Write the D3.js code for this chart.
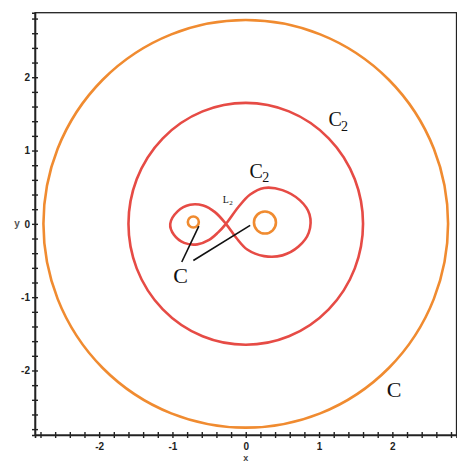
<!DOCTYPE html>
<html>
<head>
<meta charset="utf-8">
<script src="https://cdn.jsdelivr.net/npm/d3@7"></script>
<style>
  html, body { margin: 0; padding: 0; background: #fff; }
  svg { display: block; }
</style>
</head>
<body>
<svg id="chart" width="457" height="463"></svg>
<script>
// ---- data ----
const xDomain = [-2.875, 2.875];
const yDomain = [-2.88, 2.88];
const majorTicks = [-2, -1, 0, 1, 2];
const minorStep = 0.2;

// level curves drawn as ovals: [cx, cy, rx, ry]
const ovalNames  = ["C outer", "C2 outer", "C left", "C right"];
const ovalCx     = [0.0, 0.0, -0.715, 0.262];
const ovalCy     = [0.0, 0.0, 0.025, 0.018];
const ovalRx     = [2.76, 1.60, 0.075, 0.150];
const ovalRy     = [2.78, 1.65, 0.075, 0.150];
const ovalLevel  = ["C", "C2", "C", "C"];

// figure-eight C2 curve through the crossing point
const eightX = [-0.27, -0.10, 0.06, 0.25, 0.50, 0.74, 0.87, 0.86, 0.72, 0.50, 0.25, 0.02, -0.13,
                -0.27, -0.42, -0.58, -0.76, -0.93, -1.03, -0.98, -0.84, -0.66, -0.50, -0.38];
const eightY = [0.0, 0.23, 0.40, 0.49, 0.46, 0.32, 0.13, -0.12, -0.31, -0.43, -0.44, -0.35, -0.19,
                0.0, 0.16, 0.25, 0.26, 0.17, 0.0, -0.15, -0.26, -0.28, -0.22, -0.12];

// annotation labels
const labelText = ["C", "2", "C", "2", "L", "2", "C", "C"];
const labelX    = [1.13, 1.30, 0.05, 0.225, -0.315, -0.225, -0.99, 1.925];
const labelY    = [1.33, 1.27, 0.63, 0.57, 0.28, 0.255, -0.81, -2.36];
const labelSize = [20, 14, 20, 14, 10, 7, 22, 22];
// pointer lines from the lower "C"
const pointerX1 = [-0.873, -0.715];
const pointerY1 = [-0.52, -0.50];
const pointerX2 = [-0.64, 0.06];
const pointerY2 = [-0.03, -0.02];

const colors = { C: "#f08b30", C2: "#e64b45" };

// ---- chart ----
const svg = d3.select("#chart");
const x = d3.scaleLinear().domain(xDomain).range([35, 456.5]);
const y = d3.scaleLinear().domain(yDomain).range([435, 12.7]);

const minor = d3.range(-2.8, 2.81, minorStep).map(v => Math.round(v * 10) / 10);

// frame
svg.append("rect")
  .attr("x", x(xDomain[0])).attr("y", y(yDomain[1]))
  .attr("width", x(xDomain[1]) - x(xDomain[0]))
  .attr("height", y(yDomain[0]) - y(yDomain[1]))
  .attr("fill", "none").attr("stroke", "#222").attr("stroke-width", 1.3);

const fmt = v => (majorTicks.includes(v) ? (v < 0 ? "-" + Math.abs(v) : String(v)) : "");

const xAxis = svg.append("g")
  .attr("transform", `translate(0,${y(yDomain[0])})`)
  .call(d3.axisBottom(x).tickValues(minor).tickSize(3).tickFormat(fmt));
const yAxis = svg.append("g")
  .attr("transform", `translate(${x(xDomain[0])},0)`)
  .call(d3.axisLeft(y).tickValues(minor).tickSize(3).tickFormat(fmt));

[xAxis, yAxis].forEach(g => {
  g.select(".domain").attr("stroke", "#222").attr("stroke-width", 1.6);
  g.selectAll(".tick line").attr("stroke", "#222").attr("stroke-width", 1.4);
  g.selectAll("text")
    .attr("font-family", "Liberation Sans, Arial, sans-serif")
    .attr("font-weight", "bold").attr("font-size", 10).attr("fill", "#222");
});
xAxis.selectAll(".tick line").attr("y1", -3).attr("y2", 3);
xAxis.selectAll(".tick text").attr("y", 8);
yAxis.selectAll(".tick line").attr("x1", -3).attr("x2", 3);
yAxis.selectAll(".tick text").attr("x", -5);

// axis titles
svg.append("text").attr("x", x(0)).attr("y", 461)
  .attr("text-anchor", "middle")
  .attr("font-family", "Liberation Sans, Arial, sans-serif")
  .attr("font-weight", "bold").attr("font-size", 9).attr("fill", "#444").text("x");
svg.append("text").attr("x", 17).attr("y", y(0) + 3.5)
  .attr("text-anchor", "middle")
  .attr("font-family", "Liberation Sans, Arial, sans-serif")
  .attr("font-weight", "bold").attr("font-size", 10).attr("fill", "#555").text("y");

// ovals
svg.append("g").selectAll("ellipse")
  .data(ovalNames.map((n, i) => ({ cx: ovalCx[i], cy: ovalCy[i], rx: ovalRx[i], ry: ovalRy[i], level: ovalLevel[i] })))
  .join("ellipse")
  .attr("cx", d => x(d.cx)).attr("cy", d => y(d.cy))
  .attr("rx", d => x(d.rx) - x(0)).attr("ry", d => y(0) - y(d.ry))
  .attr("fill", "none")
  .attr("stroke", d => colors[d.level])
  .attr("stroke-width", 2.6);

// figure eight
const eightPts = eightX.map((v, i) => [x(v), y(eightY[i])]);
svg.append("path")
  .attr("d", d3.line().curve(d3.curveCatmullRomClosed.alpha(0.5))(eightPts))
  .attr("fill", "none").attr("stroke", colors.C2).attr("stroke-width", 2.6);

// pointer lines
svg.append("g").selectAll("line")
  .data(pointerX1.map((v, i) => i))
  .join("line")
  .attr("x1", i => x(pointerX1[i])).attr("y1", i => y(pointerY1[i]))
  .attr("x2", i => x(pointerX2[i])).attr("y2", i => y(pointerY2[i]))
  .attr("stroke", "#111").attr("stroke-width", 1.6);

// labels
svg.append("g").selectAll("text")
  .data(labelText.map((t, i) => i))
  .join("text")
  .attr("x", i => x(labelX[i])).attr("y", i => y(labelY[i]))
  .attr("font-family", "Liberation Serif, Times New Roman, serif")
  .attr("font-size", i => labelSize[i])
  .attr("fill", "#111")
  .text(i => labelText[i]);
</script>
</body>
</html>
